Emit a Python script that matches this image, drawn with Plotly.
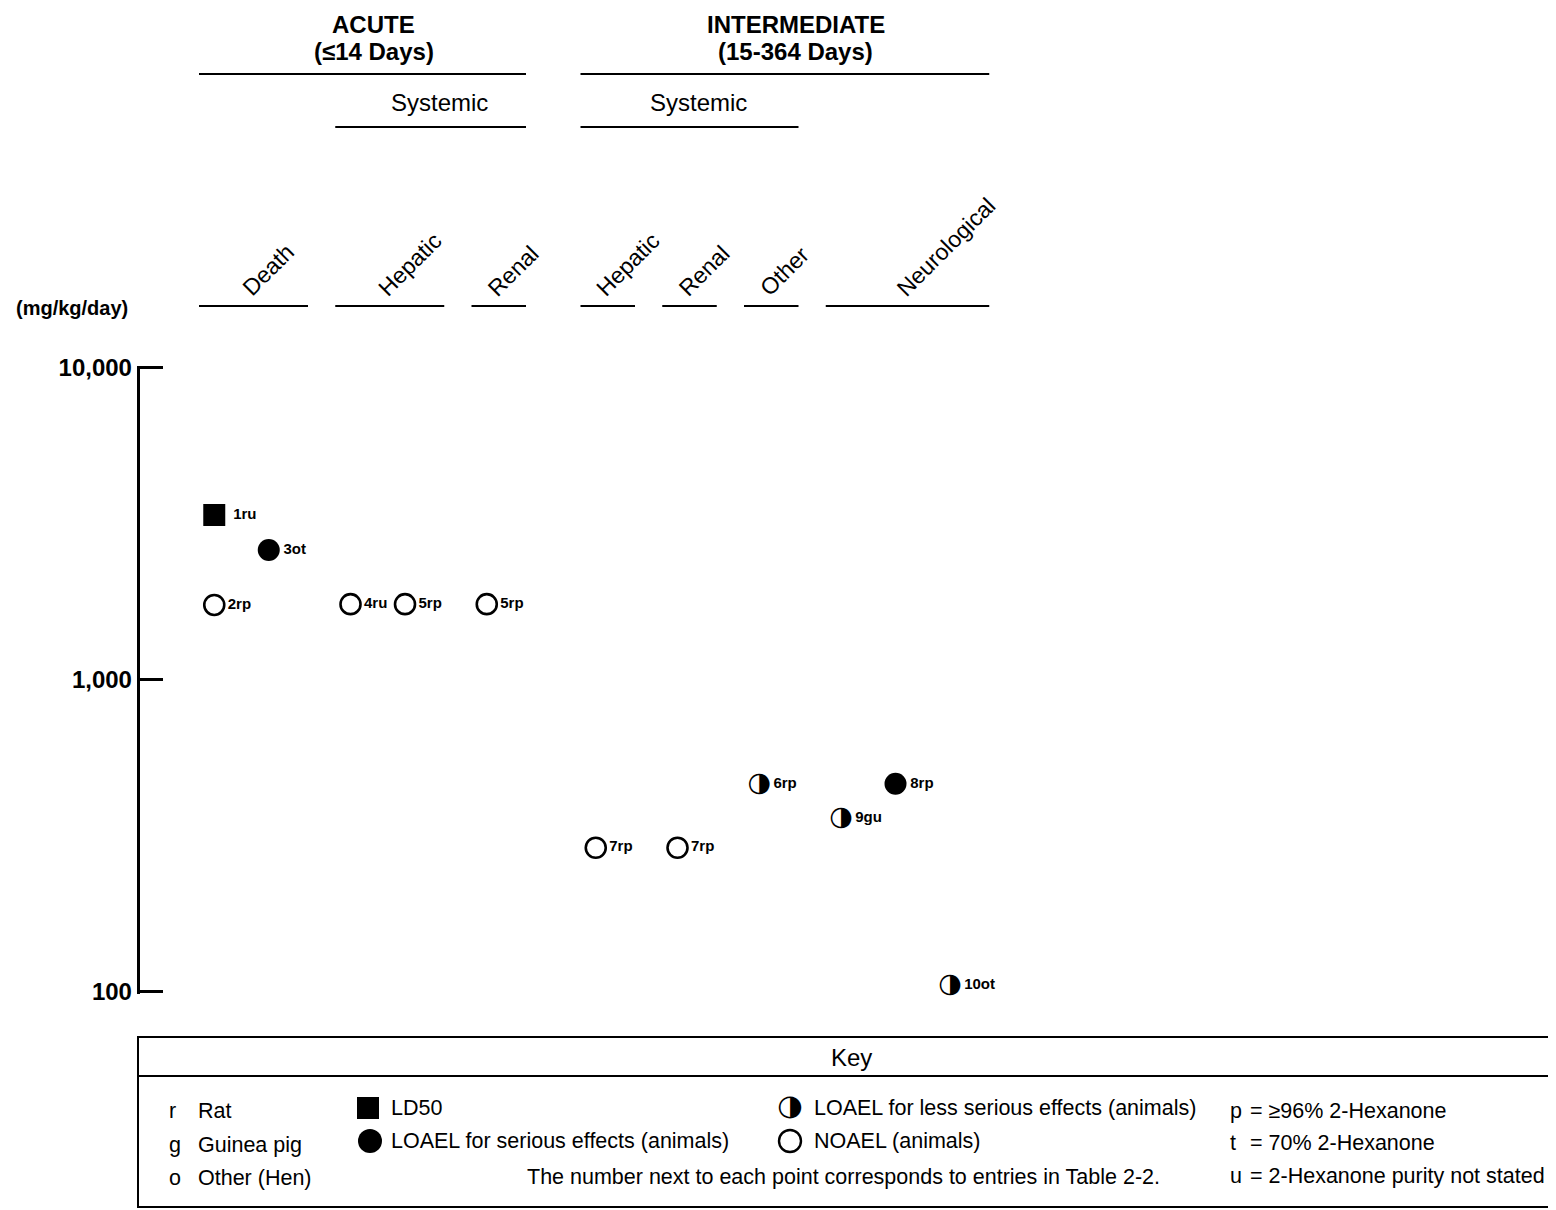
import plotly.graph_objects as go

# ---------------- data ----------------
columns = ["Death", "Hepatic", "Renal", "Hepatic", "Renal", "Other", "Neurological"]
column_duration = ["Acute", "Acute", "Acute", "Intermediate", "Intermediate", "Intermediate", "Intermediate"]

point_labels = ["1ru", "2rp", "3ot", "4ru", "5rp", "5rp", "7rp", "7rp", "6rp", "9gu", "8rp", "10ot"]
point_column = [0, 0, 0, 1, 1, 2, 3, 4, 5, 6, 6, 6]
point_slot = [0, 0, 1, 0, 1, 0, 0, 0, 0, 0, 1, 2]
point_dose = [3380, 1740, 2610, 1750, 1750, 1750, 290, 290, 465, 360, 465, 105]
point_type = ["LD50", "NOAEL", "LOAEL_serious", "NOAEL", "NOAEL", "NOAEL",
              "NOAEL", "NOAEL", "LOAEL_less", "LOAEL_less", "LOAEL_serious", "LOAEL_less"]

tick_values = [100, 1000, 10000]
tick_labels = ["100", "1,000", "10,000"]

# ---------------- layout helpers ----------------
OFF = 8                      # page body margin
W, H = 1556 - OFF, 1210 - OFF
col_width = [2, 2, 1, 1, 1, 1, 3]          # in slots
col_gap = [0, 0.5, 0.5, 1, 0.5, 0.5, 0.5]  # gap before each column
col_start = []
pos = 0
for w, g in zip(col_width, col_gap):
    pos += g
    col_start.append(pos)
    pos += w
col_end = [s + w for s, w in zip(col_start, col_width)]

SLOT_PX = 54.5
X0_PX = 199
AX_PX = 139.5
DECADE_PX = 312
Y100_PX = 992
EXT = 0.006   # small range extension (decades) so end ticks are drawn


def PX(p):
    return (p - OFF) / W


def PY(p):
    return 1 - (p - OFF) / H


FONT = "Liberation Sans, Arial, sans-serif"
BLACK = "#000000"

fig = go.Figure()

px_x = [col_start[c] + s + 0.28 for c, s in zip(point_column, point_slot)]

styles = {
    "LD50": dict(symbol="square", size=22, color=BLACK, line=dict(width=0)),
    "LOAEL_serious": dict(symbol="circle", size=22, color=BLACK, line=dict(width=0)),
    "NOAEL": dict(symbol="circle-open", size=20, color=BLACK, line=dict(width=2.6, color=BLACK)),
    "LOAEL_less": dict(symbol="circle", size=21, color="rgba(0,0,0,0)", line=dict(width=0)),
}

for t, st in styles.items():
    idx = [i for i, tt in enumerate(point_type) if tt == t]
    lbl = [("<b> %s</b>" if t == "LD50" else "<b>%s</b>") % point_labels[i] for i in idx]
    fig.add_trace(go.Scatter(
        x=[px_x[i] for i in idx], y=[point_dose[i] for i in idx],
        mode="markers+text", text=lbl, textposition="middle right",
        textfont=dict(family=FONT, size=15, color=BLACK),
        marker=st, cliponaxis=False, showlegend=False, hoverinfo="skip",
    ))

# half-filled circle glyphs
idx = [i for i, tt in enumerate(point_type) if tt == "LOAEL_less"]
fig.add_trace(go.Scatter(
    x=[px_x[i] for i in idx], y=[point_dose[i] for i in idx],
    mode="text", text=["◑"] * len(idx), textposition="middle center",
    textfont=dict(family="DejaVu Sans", size=27, color=BLACK),
    cliponaxis=False, showlegend=False, hoverinfo="skip",
))

# key markers on a separate full-page pixel axis
key_marks = [
    ("square", 22, BLACK, 368, 1108, 0),
    ("circle", 24, BLACK, 370, 1141, 0),
    ("circle-open", 22, BLACK, 790, 1141, 2.4),
]
for sym, sz, colr, kx, ky, lw in key_marks:
    fig.add_trace(go.Scatter(
        x=[kx], y=[ky], xaxis="x2", yaxis="y2", mode="markers",
        marker=dict(symbol=sym, size=sz, color=colr, line=dict(width=lw, color=BLACK)),
        showlegend=False, hoverinfo="skip", cliponaxis=False,
    ))
fig.add_trace(go.Scatter(
    x=[790], y=[1108], xaxis="x2", yaxis="y2", mode="text", text=["◑"],
    textposition="middle center", textfont=dict(family="DejaVu Sans", size=29, color=BLACK),
    showlegend=False, hoverinfo="skip", cliponaxis=False,
))

annotations = []
shapes = []


def txt(x, y, s, size=21, bold=False, xanchor="left", xref="paper", **kw):
    annotations.append(dict(
        x=x, y=y, xref=xref, yref="paper", text=("<b>%s</b>" % s) if bold else s,
        showarrow=False, xanchor=xanchor, yanchor="middle",
        font=dict(family=FONT, size=size, color=BLACK), **kw))


def hline(x0, x1, y, xref="x", width=2.2):
    shapes.append(dict(type="line", xref=xref, yref="paper", x0=x0, x1=x1,
                       y0=PY(y), y1=PY(y), line=dict(color=BLACK, width=width)))


# Duration headers
groups = [("ACUTE", "(≤14 Days)", 0, 2), ("INTERMEDIATE", "(15-364 Days)", 3, 6)]
for t1, t2, c0, c1 in groups:
    xc = (col_start[c0] + col_end[c1]) / 2
    txt(xc, PY(25), t1, size=24, bold=True, xanchor="center", xref="x", xshift=11)
    txt(xc, PY(52), t2, size=24, bold=True, xanchor="center", xref="x", xshift=11)
    hline(col_start[c0], col_end[c1], 74)

systemic = [(1, 2), (3, 5)]
for c0, c1 in systemic:
    xc = (col_start[c0] + col_end[c1]) / 2
    txt(xc, PY(102), "Systemic", size=24, xanchor="center", xref="x", xshift=9)
    hline(col_start[c0], col_end[c1], 127)

# Rotated endpoint labels and underlines
for i, name in enumerate(columns):
    xc = (col_start[i] + col_end[i]) / 2
    annotations.append(dict(
        x=xc, y=PY(304), xref="x", yref="paper", text=name, showarrow=False,
        textangle=-45, xanchor="left", yanchor="bottom", xshift=-19,
        font=dict(family=FONT, size=23, color=BLACK)))
    hline(col_start[i], col_end[i], 306)

# unit label
txt(PX(14), PY(308), "(mg/kg/day)", size=20, bold=True)

# Key box
shapes.append(dict(type="rect", xref="paper", yref="paper", x0=PX(138), x1=PX(1570),
                   y0=PY(1207), y1=PY(1037), line=dict(color=BLACK, width=2)))
shapes.append(dict(type="line", xref="paper", yref="paper", x0=PX(138), x1=PX(1570),
                   y0=PY(1076), y1=PY(1076), line=dict(color=BLACK, width=2)))
txt(PX(851), PY(1057), "Key", size=24, xanchor="center")

KS = 21.5
species = [("r", "Rat"), ("g", "Guinea pig"), ("o", "Other (Hen)")]
rows_y = [1111, 1145, 1178]
for (a, b), ry in zip(species, rows_y):
    txt(PX(167), PY(ry), a, size=KS)
    txt(PX(196), PY(ry), b, size=KS)

txt(PX(389), PY(1108), "LD50", size=KS)
txt(PX(389), PY(1141), "LOAEL for serious effects (animals)", size=KS)
txt(PX(812), PY(1108), "LOAEL for less serious effects (animals)", size=KS)
txt(PX(812), PY(1141), "NOAEL (animals)", size=KS)
txt(PX(843), PY(1177), "The number next to each point corresponds to entries in Table 2-2.", size=KS,
    xanchor="center")

purity = [("p", "= ≥96% 2-Hexanone"), ("t", "= 70% 2-Hexanone"), ("u", "= 2-Hexanone purity not stated")]
for (a, b), ry in zip(purity, [1111, 1143, 1176]):
    txt(PX(1228), PY(ry), a, size=KS)
    txt(PX(1248), PY(ry), b, size=KS)

x_lo = (AX_PX - X0_PX) / SLOT_PX
x_hi = (OFF + W - X0_PX) / SLOT_PX

y_bot_px = Y100_PX + EXT * DECADE_PX
y_top_px = Y100_PX - (2 + EXT) * DECADE_PX

fig.update_layout(
    width=W, height=H,
    margin=dict(l=0, r=0, t=0, b=0, pad=0, autoexpand=False),
    paper_bgcolor="white", plot_bgcolor="rgba(0,0,0,0)",
    showlegend=False,
    xaxis=dict(domain=[PX(AX_PX), 1], range=[x_lo, x_hi], visible=False, fixedrange=True,
               automargin=False, anchor="y"),
    yaxis=dict(type="log", range=[2 - EXT, 4 + EXT], domain=[PY(y_bot_px), PY(y_top_px)],
               showline=True, linecolor=BLACK, linewidth=2.5, mirror=False,
               ticks="inside", ticklen=24, tickwidth=2.5, tickcolor=BLACK,
               tickvals=tick_values, ticktext=["<b>%s</b>" % t for t in tick_labels],
               tickfont=dict(family=FONT, size=24, color=BLACK),
               showgrid=False, zeroline=False, anchor="x", fixedrange=True, automargin=False),
    xaxis2=dict(domain=[0, 1], range=[OFF, OFF + W], visible=False, anchor="y2", automargin=False),
    yaxis2=dict(domain=[0, 1], range=[OFF + H, OFF], visible=False, anchor="x2", automargin=False),
    annotations=annotations,
    shapes=shapes,
)

fig.write_html("out.html")
